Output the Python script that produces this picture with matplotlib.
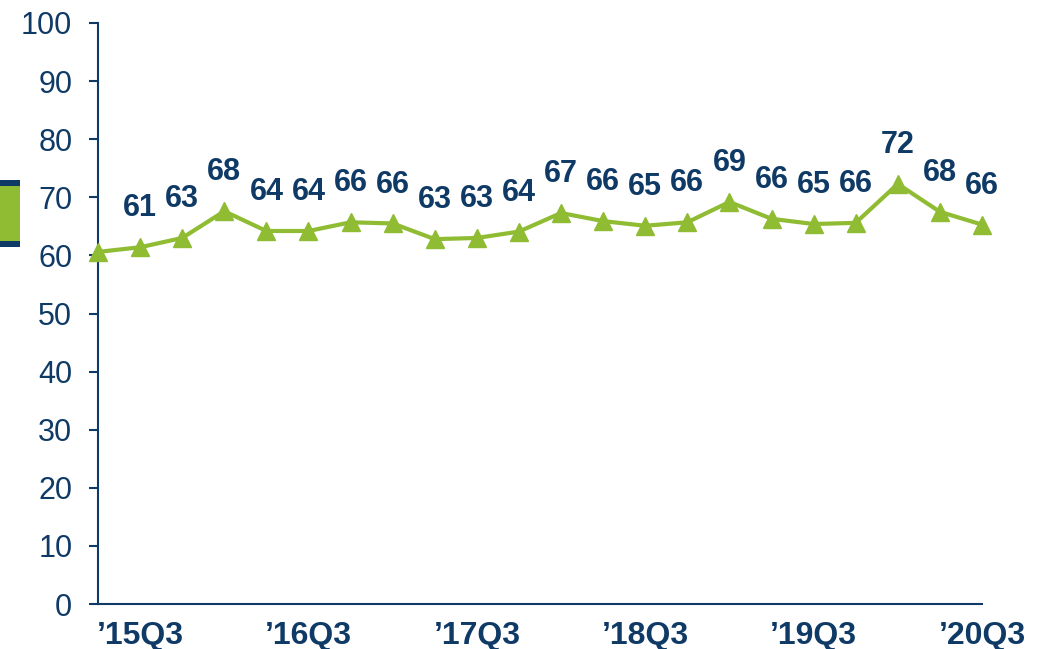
import numpy as np
import matplotlib.pyplot as plt
from matplotlib.patches import Rectangle

plt.rcParams['font.family'] = ['Liberation Sans', 'DejaVu Sans']

NAVY = "#0f3a66"
GREEN = "#8fbc32"

quarters = ["’15Q2", "’15Q3", "’15Q4", "’16Q1", "’16Q2", "’16Q3", "’16Q4", "’17Q1",
            "’17Q2", "’17Q3", "’17Q4", "’18Q1", "’18Q2", "’18Q3", "’18Q4", "’19Q1",
            "’19Q2", "’19Q3", "’19Q4", "’20Q1", "’20Q2", "’20Q3"]
values = [60.6, 61.4, 63.0, 67.6, 64.2, 64.2, 65.7, 65.5, 62.8, 63.0, 64.1,
          67.3, 65.9, 65.1, 65.7, 69.2, 66.3, 65.4, 65.6, 72.3, 67.5, 65.3]
# shown labels (first point has none)
labels = [None, 61, 63, 68, 64, 64, 66, 66, 63, 63, 64,
          67, 66, 65, 66, 69, 66, 65, 66, 72, 68, 66]
shown_ticks = ["’15Q3", "’16Q3", "’17Q3", "’18Q3", "’19Q3", "’20Q3"]

fig = plt.figure(figsize=(10.42, 6.49), dpi=100)
ax = fig.add_axes([98 / 1042, 45 / 649, 884 / 1042, 581 / 649])

x = np.arange(len(values))
ax.plot(x, values, color=GREEN, lw=3, marker="^", markersize=13,
        clip_on=False, zorder=3)

for xi, v, lab in zip(x, values, labels):
    if lab is None:
        continue
    ax.annotate(str(lab), (xi, v), xytext=(0, 28), textcoords="offset points",
                ha="center", va="center", fontsize=22, fontweight="bold",
                color=NAVY)

ax.set_xlim(0, len(values) - 1)
ax.set_ylim(0, 100)
ax.set_yticks(np.arange(0, 101, 10))
ax.set_xticks([quarters.index(q) for q in shown_ticks])
ax.set_xticklabels(shown_ticks)

for s in ["top", "right"]:
    ax.spines[s].set_visible(False)
for s in ["left", "bottom"]:
    ax.spines[s].set_color(NAVY)
    ax.spines[s].set_linewidth(1.5)

ax.tick_params(axis="y", direction="out", length=6.5, width=1.5, color=NAVY,
               labelcolor=NAVY, labelsize=22, pad=12)
ax.tick_params(axis="x", length=0, labelcolor=NAVY, labelsize=23, pad=12)
for t in ax.get_xticklabels():
    t.set_fontweight("bold")

# leftover legend swatch at left edge
fig.patches.append(Rectangle((0, 402 / 649), 20 / 1042, 67 / 649,
                             transform=fig.transFigure, facecolor=GREEN,
                             edgecolor="none"))
fig.patches.append(Rectangle((0, 463 / 649), 20 / 1042, 6 / 649,
                             transform=fig.transFigure, facecolor=NAVY,
                             edgecolor="none"))
fig.patches.append(Rectangle((0, 402 / 649), 20 / 1042, 6 / 649,
                             transform=fig.transFigure, facecolor=NAVY,
                             edgecolor="none"))

fig.savefig("out.png", dpi=100)
